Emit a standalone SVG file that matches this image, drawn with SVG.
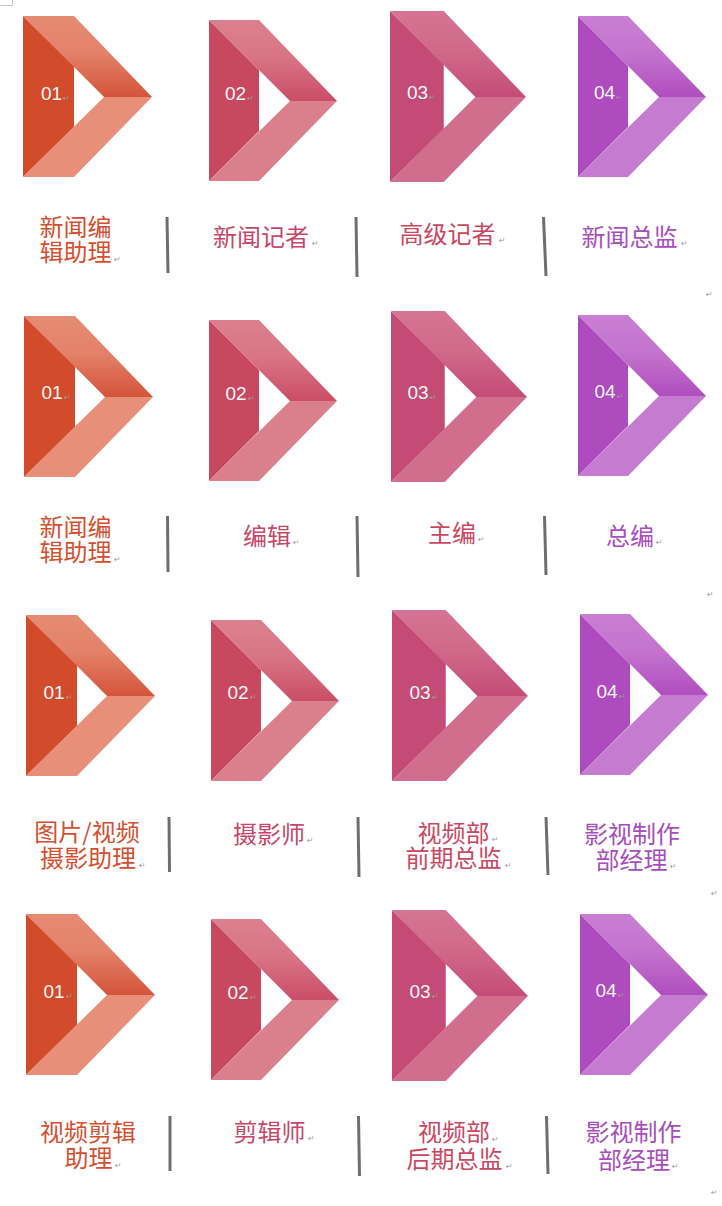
<svg xmlns="http://www.w3.org/2000/svg" xmlns:xlink="http://www.w3.org/1999/xlink" width="722" height="1206" viewBox="0 0 722 1206">
<style>
.num{font-family:"Liberation Sans",Arial,sans-serif;font-size:19px;fill:#f7f7f7;text-anchor:middle}
.lbl{font-family:"Noto Sans CJK SC","Noto Sans",sans-serif;font-size:24px;text-anchor:middle}
.c1{fill:#d34f2f}.c2{fill:#c64769}.c3{fill:#c9485f}.c4{fill:#a74dbd}
.pm{font-family:"DejaVu Sans",sans-serif;font-size:8px;fill:#9c9c9c;text-anchor:start}
.sep{stroke:#6e6e6e;stroke-width:3;stroke-linecap:butt}
</style>
<defs>
<linearGradient id="g1" x1="0" y1="0" x2="0" y2="1"><stop offset="0" stop-color="#e68b72"/><stop offset="0.45" stop-color="#e3826a"/><stop offset="1" stop-color="#d4543a"/></linearGradient>
<linearGradient id="g2" x1="0" y1="0" x2="0" y2="1"><stop offset="0" stop-color="#db808f"/><stop offset="0.45" stop-color="#d87586"/><stop offset="1" stop-color="#cb4d67"/></linearGradient>
<linearGradient id="g3" x1="0" y1="0" x2="0" y2="1"><stop offset="0" stop-color="#d57493"/><stop offset="0.45" stop-color="#d16a8a"/><stop offset="1" stop-color="#c44c77"/></linearGradient>
<linearGradient id="g4" x1="0" y1="0" x2="0" y2="1"><stop offset="0" stop-color="#c87ed2"/><stop offset="0.45" stop-color="#c474ce"/><stop offset="1" stop-color="#b04dbf"/></linearGradient>
<g id="s1">
<polygon points="0,0 51,50 51,111 0,161" fill="#d24c2c"/>
<polygon points="0,0 51,0 129,81 81,81" fill="url(#g1)"/>
<polygon points="81,81 129,81 51,161 0,161" fill="#e78f78"/>
</g>
<g id="s2">
<polygon points="0,0 50,50 50,111 0,161" fill="#c8495f"/>
<polygon points="0,0 50,0 128,81 81,81" fill="url(#g2)"/>
<polygon points="81,81 128,81 50,161 0,161" fill="#da7f8c"/>
</g>
<g id="s3">
<polygon points="0,0 51,50 51,111 0,161" fill="#c34b75"/>
<polygon points="0,0 51,0 129,81 81,81" fill="url(#g3)"/>
<polygon points="81,81 129,81 51,161 0,161" fill="#d26e8d"/>
</g>
<g id="s4">
<polygon points="0,0 50,50 50,111 0,161" fill="#ae4bbe"/>
<polygon points="0,0 50,0 128,81 81,81" fill="url(#g4)"/>
<polygon points="81,81 128,81 50,161 0,161" fill="#c57bd0"/>
</g>
</defs>
<rect width="722" height="1206" fill="#ffffff"/>
<path d="M0 5.5H12.5V0" fill="none" stroke="#c4c4c4" stroke-width="1"/>

<!-- Row 1 -->
<g id="r1-n1"><use xlink:href="#s1" transform="translate(23,16)"/><text class="num" x="51.5" y="100">01<tspan class="pm" x="63" y="101">↵</tspan></text></g>
<g id="r1-n2"><use xlink:href="#s2" transform="translate(209,20)"/><text class="num" x="235.5" y="100">02<tspan class="pm" x="247" y="101">↵</tspan></text></g>
<g id="r1-n3"><use xlink:href="#s3" transform="translate(390,11) scale(1.054,1.062)"/><text class="num" x="417.5" y="99">03<tspan class="pm" x="429" y="100">↵</tspan></text></g>
<g id="r1-n4"><use xlink:href="#s4" transform="translate(578,16)"/><text class="num" x="604.5" y="99">04<tspan class="pm" x="616" y="100">↵</tspan></text></g>
<g id="r1-l1"><text class="lbl c1" x="75.5" y="236">新闻编<tspan x="75.5" y="261">辑助理</tspan><tspan class="pm" x="114" y="262">↵</tspan></text></g>
<g id="r1-l2"><text class="lbl c2" x="261" y="246">新闻记者<tspan class="pm" x="312" y="246">↵</tspan></text></g>
<g id="r1-l3"><text class="lbl c3" x="447.5" y="243">高级记者<tspan class="pm" x="499" y="243">↵</tspan></text></g>
<g id="r1-l4"><text class="lbl c4" x="629.5" y="246">新闻总监<tspan class="pm" x="681" y="246">↵</tspan></text></g>
<text class="pm" x="706" y="297">↵</text>

<!-- Row 2 -->
<g id="r2-n1"><use xlink:href="#s1" transform="translate(24,316)"/><text class="num" x="52" y="399">01<tspan class="pm" x="64" y="400">↵</tspan></text></g>
<g id="r2-n2"><use xlink:href="#s2" transform="translate(209,320)"/><text class="num" x="236" y="400">02<tspan class="pm" x="248" y="401">↵</tspan></text></g>
<g id="r2-n3"><use xlink:href="#s3" transform="translate(391,311) scale(1.054,1.062)"/><text class="num" x="418" y="399">03<tspan class="pm" x="430" y="400">↵</tspan></text></g>
<g id="r2-n4"><use xlink:href="#s4" transform="translate(578,315)"/><text class="num" x="605" y="398">04<tspan class="pm" x="617" y="399">↵</tspan></text></g>
<g id="r2-l1"><text class="lbl c1" x="75.5" y="536">新闻编<tspan x="75.5" y="561">辑助理</tspan><tspan class="pm" x="114" y="562">↵</tspan></text></g>
<g id="r2-l2"><text class="lbl c2" x="267" y="545">编辑<tspan class="pm" x="293" y="545">↵</tspan></text></g>
<g id="r2-l3"><text class="lbl c3" x="452" y="542">主编<tspan class="pm" x="478" y="542">↵</tspan></text></g>
<g id="r2-l4"><text class="lbl c4" x="630" y="545">总编<tspan class="pm" x="656" y="545">↵</tspan></text></g>
<text class="pm" x="707" y="597">↵</text>

<!-- Row 3 -->
<g id="r3-n1"><use xlink:href="#s1" transform="translate(26,615)"/><text class="num" x="54" y="699">01<tspan class="pm" x="66" y="700">↵</tspan></text></g>
<g id="r3-n2"><use xlink:href="#s2" transform="translate(211,620)"/><text class="num" x="238" y="699">02<tspan class="pm" x="250" y="700">↵</tspan></text></g>
<g id="r3-n3"><use xlink:href="#s3" transform="translate(392,610) scale(1.054,1.062)"/><text class="num" x="420" y="699">03<tspan class="pm" x="432" y="700">↵</tspan></text></g>
<g id="r3-n4"><use xlink:href="#s4" transform="translate(580,614)"/><text class="num" x="607" y="698">04<tspan class="pm" x="619" y="699">↵</tspan></text></g>
<g id="r3-l1"><text class="lbl c1" x="87" y="841">图片/视频<tspan x="88" y="867">摄影助理</tspan><tspan class="pm" x="139" y="868">↵</tspan></text></g>
<g id="r3-l2"><text class="lbl c2" x="269" y="843">摄影师<tspan class="pm" x="307" y="843">↵</tspan></text></g>
<g id="r3-l3"><text class="lbl c3" x="453.5" y="842">视频部<tspan class="pm" x="492" y="842">↵</tspan><tspan x="453.5" y="867">前期总监</tspan><tspan class="pm" x="505" y="868">↵</tspan></text></g>
<g id="r3-l4"><text class="lbl c4" x="632" y="843">影视制作<tspan x="631.5" y="869">部经理</tspan><tspan class="pm" x="670" y="869">↵</tspan></text></g>
<text class="pm" x="711" y="896">↵</text>

<!-- Row 4 -->
<g id="r4-n1"><use xlink:href="#s1" transform="translate(26,914)"/><text class="num" x="54" y="998">01<tspan class="pm" x="66" y="999">↵</tspan></text></g>
<g id="r4-n2"><use xlink:href="#s2" transform="translate(211,919)"/><text class="num" x="238" y="999">02<tspan class="pm" x="250" y="1000">↵</tspan></text></g>
<g id="r4-n3"><use xlink:href="#s3" transform="translate(392,910) scale(1.054,1.062)"/><text class="num" x="420" y="998">03<tspan class="pm" x="432" y="999">↵</tspan></text></g>
<g id="r4-n4"><use xlink:href="#s4" transform="translate(580,914)"/><text class="num" x="606" y="997">04<tspan class="pm" x="618" y="998">↵</tspan></text></g>
<g id="r4-l1"><text class="lbl c1" x="88" y="1141">视频剪辑<tspan x="88.5" y="1167">助理</tspan><tspan class="pm" x="115" y="1168">↵</tspan></text></g>
<g id="r4-l2"><text class="lbl c2" x="269.5" y="1141">剪辑师<tspan class="pm" x="308" y="1141">↵</tspan></text></g>
<g id="r4-l3"><text class="lbl c3" x="454" y="1141">视频部<tspan class="pm" x="492" y="1142">↵</tspan><tspan x="454.5" y="1168">后期总监</tspan><tspan class="pm" x="506" y="1169">↵</tspan></text></g>
<g id="r4-l4"><text class="lbl c4" x="633.5" y="1141">影视制作<tspan x="634" y="1169">部经理</tspan><tspan class="pm" x="672" y="1169">↵</tspan></text></g>
<text class="pm" x="711" y="1195">↵</text>

<g id="connectors">
<line class="sep" x1="167" y1="217" x2="168" y2="273"/>
<line class="sep" x1="356" y1="217" x2="357" y2="277"/>
<line class="sep" x1="543.5" y1="217" x2="546" y2="276"/>
<line class="sep" x1="167.5" y1="516" x2="168" y2="572"/>
<line class="sep" x1="357" y1="516" x2="358" y2="577"/>
<line class="sep" x1="544.5" y1="516" x2="546" y2="575"/>
<line class="sep" x1="169" y1="817" x2="169.5" y2="872"/>
<line class="sep" x1="358" y1="817" x2="359" y2="877"/>
<line class="sep" x1="546" y1="817" x2="548" y2="875"/>
<line class="sep" x1="170" y1="1116" x2="170" y2="1171"/>
<line class="sep" x1="358.5" y1="1116" x2="359.5" y2="1176"/>
<line class="sep" x1="546.5" y1="1116" x2="548" y2="1174"/>
</g>
</svg>
